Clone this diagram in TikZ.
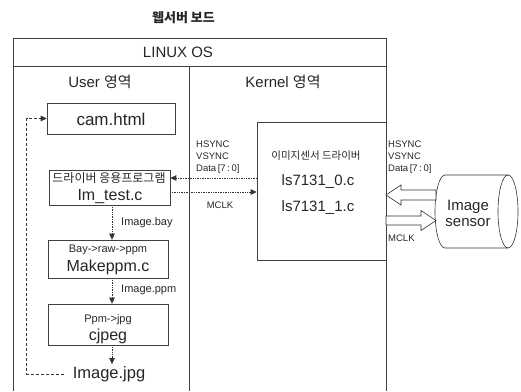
\documentclass[tikz,border=0pt]{standalone}
\usepackage{fontspec}
\setmainfont{Liberation Sans}
\newfontfamily\kr{Noto Sans CJK KR}
\usetikzlibrary{arrows.meta,calc}
\newcommand{\fs}[1]{\fontsize{#1}{#1}\selectfont}
\begin{document}
\begin{tikzpicture}[x=1pt,y=-1pt,
  every node/.style={inner sep=0pt, text=black!85},
  frame/.style={draw=black!75, line width=0.6pt},
  pbox/.style={draw=black!75, line width=0.6pt, rectangle},
  flow/.style={black!80, densely dotted, line width=0.7pt, -{Triangle[length=6pt,width=5.5pt]}},
  loopline/.style={black!80, dashed, dash pattern=on 3pt off 2pt, line width=0.6pt, -{Triangle[length=6pt,width=5.5pt]}},
  barrow/.style={draw=black!80, line width=0.6pt, fill=white},
  small/.style={font=\fs{9.5}, align=left},
  big/.style={font=\fs{16}},
  mid/.style={font=\fs{11}}]
\useasboundingbox (0,0) rectangle (521,391);

% title
\node[font=\kr\bfseries\fs{13}] (title) at (183.5,18) {웹서버 보드};

% frame
\draw[frame] (13,391) -- (13,38) -- (386,38) -- (386,391);
\draw[frame] (13,66) -- (386,66);
\draw[frame] (189,66) -- (189,391);
\node[font=\fs{15}] (linux) at (178,52) {LINUX OS};
\node[font=\fs{15}] (user) at (100,82) {User {\kr 영역}};
\node[font=\fs{15}] (kernel) at (283,82) {Kernel {\kr 영역}};

% user side boxes
\node[pbox, minimum width=128pt, minimum height=31pt] (cam) at (111,118.5) {};
\node[font=\fs{17}] (camt) at (111,119) {cam.html};

\node[pbox, minimum width=121pt, minimum height=35pt] (lm) at (109.5,187.5) {};
\node[font=\kr\fs{12}] (lmk) at (109,178.5) {드라이버 응용프로그램};
\node[big] (lmt) at (110,197) {Im\_test.c};

\node[pbox, minimum width=120pt, minimum height=38pt] (mk) at (108,259) {};
\node[mid] (mka) at (108,250) {Bay->raw->ppm};
\node[big] (mkb) at (108,267) {Makeppm.c};

\node[pbox, minimum width=120pt, minimum height=41pt] (cj) at (108,324.5) {};
\node[mid] (cja) at (108,320) {Ppm->jpg};
\node[big] (cjb) at (108,336.5) {cjpeg};

\node[font=\fs{16.5}] (img) at (109,374) {Image.jpg};

\coordinate (ax) at (112,0);
\draw[flow] (lm.south -| ax) -- (mk.north -| ax);
\node[mid, anchor=west] (bay) at (121,223) {Image.bay};
\draw[flow] (mk.south -| ax) -- (cj.north -| ax);
\node[mid, anchor=west] (ppm) at (121,290) {Image.ppm};
\draw[flow] (cj.south -| ax) -- ([yshift=2pt]img.north -| ax);

\draw[loopline] ([xshift=-9pt]img.west) -| ([xshift=-20pt]cam.west) -- (cam.west);

% kernel side
\node[pbox, minimum width=129pt, minimum height=138pt] (drv) at (321.5,191) {};
\node[font=\kr\fs{10.5}] (drvk) at (316,156) {이미지센서 드라이버};
\node[font=\fs{15}] (d0) at (318,182) {ls7131\_0.c};
\node[font=\fs{15}] (d1) at (318,208) {ls7131\_1.c};

\node[small, anchor=north west] (lsig) at (196,141) {HSYNC\\[2.5pt]VSYNC\\[2.5pt]Data\,[7\,:\,0]};
\draw[flow] (drv.west |- 0,178) -- (lm.east |- 0,178);
\draw[flow] (lm.east |- 0,192) -- (drv.west |- 0,192);
\node[small] (lclk) at (220,205) {MCLK};

% right side
\node[small, anchor=north west] (rsig) at (388,141) {HSYNC\\[2.5pt]VSYNC\\[2.5pt]Data\,[7\,:\,0]};
\node[small, anchor=west] (rclk) at (388,238) {MCLK};

% image sensor (horizontal cylinder)
\coordinate (sen) at (476.5,211.5);
\draw[frame, draw=black!80, fill=white] (445,175) -- (508,175)
   arc[start angle=90, end angle=-90, x radius=10pt, y radius=36.5pt]
   -- (445,248)
   arc[start angle=-90, end angle=-270, x radius=10pt, y radius=36.5pt] -- cycle;
\draw[frame, draw=black!80] (508,175)
   arc[start angle=90, end angle=270, x radius=10pt, y radius=36.5pt];
\node[font=\fs{15}, align=center] (sent) at (468,213) {Image\\[1pt]sensor};

\draw[barrow] (386,195) -- (401,185) -- (401,190) -- (436,190) -- (436,200) -- (401,200) -- (401,205) -- cycle;
\draw[barrow] (436,220.5) -- (421,210.5) -- (421,216) -- (386,216) -- (386,225) -- (421,225) -- (421,230.5) -- cycle;
\end{tikzpicture}
\end{document}
